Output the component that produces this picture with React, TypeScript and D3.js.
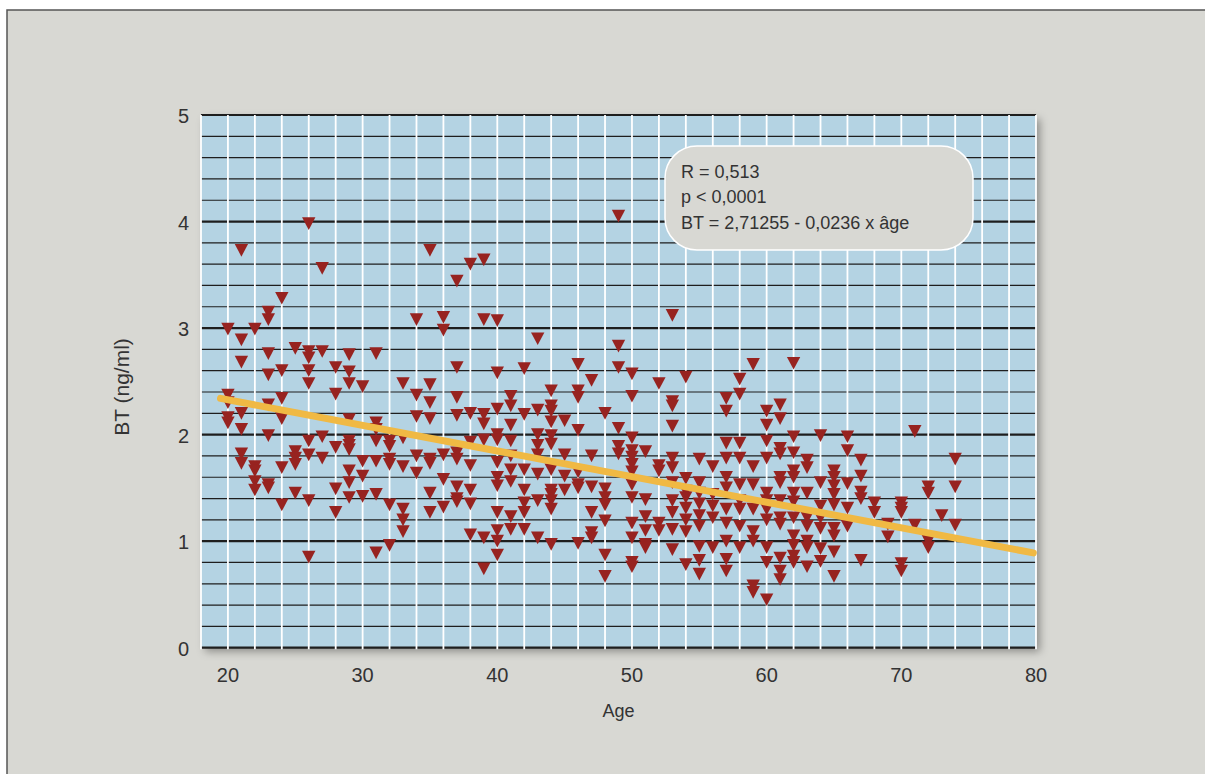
import React from 'react';
import * as d3 from 'd3';

// BT (ng/ml) against age, one list of readings per year of age
const AGE_GROUPS = [
  20, 21, 22, 23, 24, 25, 26, 27, 28, 29,
  30, 31, 32, 33, 34, 35, 36, 37, 38, 39,
  40, 41, 42, 43, 44, 45, 46, 47, 48, 49,
  50, 51, 52, 53, 54, 55, 56, 57, 58, 59,
  60, 61, 62, 63, 64, 65, 66, 67, 68, 69,
  70, 71, 72, 73, 74,
];

const BT_GROUPS = [
  [2.99, 2.37, 2.3, 2.16, 2.11],
  [3.73, 2.89, 2.68, 2.2, 2.05, 1.82, 1.73],
  [2.99, 1.7, 1.66, 1.56, 1.48],
  [3.15, 3.08, 2.76, 2.56, 2.28, 1.99, 1.53, 1.5],
  [3.28, 2.6, 2.34, 2.15, 1.69, 1.34],
  [2.81, 1.84, 1.78, 1.72, 1.45],
  [3.98, 2.78, 2.72, 2.6, 2.48, 1.94, 1.81, 1.38, 0.85],
  [3.56, 2.78, 1.98, 1.78],
  [2.63, 2.38, 1.88, 1.49, 1.27],
  [2.75, 2.59, 2.48, 2.14, 1.94, 1.9, 1.86, 1.66, 1.55, 1.41],
  [2.45, 1.75, 1.61, 1.42],
  [2.76, 2.11, 2.05, 1.94, 1.75, 1.44, 0.89],
  [1.94, 1.89, 1.77, 1.72, 1.34, 0.96],
  [2.48, 1.97, 1.7, 1.3, 1.2, 1.09],
  [3.08, 2.37, 2.17, 1.8, 1.64],
  [3.73, 2.47, 2.3, 2.15, 1.77, 1.73, 1.45, 1.27],
  [3.1, 2.98, 1.81, 1.58, 1.32],
  [3.44, 2.63, 2.35, 2.18, 1.83, 1.77, 1.51, 1.4, 1.37],
  [3.6, 2.2, 1.93, 1.71, 1.48, 1.35, 1.06],
  [3.64, 3.08, 2.19, 2.1, 1.95, 1.03, 0.74],
  [3.07, 2.58, 2.24, 2.0, 1.95, 1.74, 1.6, 1.52, 1.27, 1.1, 1.0, 0.87],
  [2.36, 2.27, 2.09, 1.94, 1.8, 1.67, 1.56, 1.23, 1.11],
  [2.62, 2.19, 1.67, 1.48, 1.36, 1.27, 1.11],
  [2.9, 2.23, 2.0, 1.9, 1.81, 1.63, 1.38, 1.03],
  [2.41, 2.27, 2.22, 2.12, 1.99, 1.91, 1.67, 1.48, 1.44, 1.38, 1.3, 0.97],
  [2.13, 1.81, 1.61, 1.48],
  [2.66, 2.41, 2.35, 2.04, 1.65, 1.53, 1.5, 0.98],
  [2.51, 1.8, 1.51, 1.27, 1.08, 1.03],
  [2.2, 1.49, 1.41, 1.34, 1.19, 0.87, 0.67],
  [4.05, 2.83, 2.63, 2.06, 1.89, 1.82],
  [2.57, 2.36, 1.97, 1.85, 1.79, 1.72, 1.65, 1.53, 1.41, 1.17, 1.03, 0.8, 0.76],
  [1.84, 1.39, 1.23, 1.1, 0.97, 0.94],
  [2.48, 1.71, 1.66, 1.17, 1.1],
  [3.12, 2.31, 2.27, 2.08, 1.78, 1.69, 1.55, 1.38, 1.27, 1.11, 0.92],
  [2.54, 1.59, 1.47, 1.41, 1.31, 1.2, 1.09, 0.78],
  [1.77, 1.55, 1.45, 1.35, 1.24, 1.14, 0.95, 0.82, 0.69],
  [1.7, 1.44, 1.33, 1.22, 0.94],
  [2.34, 2.22, 1.92, 1.78, 1.6, 1.5, 1.3, 1.17, 1.0, 0.83, 0.72],
  [2.52, 2.38, 1.92, 1.78, 1.53, 1.38, 1.3, 1.14, 0.94],
  [2.66, 1.7, 1.53, 1.3, 1.09, 1.0, 0.58, 0.52],
  [2.22, 2.09, 1.94, 1.78, 1.45, 1.38, 1.3, 1.2, 0.94, 0.8, 0.45],
  [2.28, 2.15, 1.87, 1.82, 1.6, 1.55, 1.38, 1.22, 1.16, 0.84, 0.72, 0.64],
  [2.67, 1.98, 1.83, 1.66, 1.6, 1.45, 1.37, 1.22, 1.05, 0.96, 0.86, 0.8],
  [1.76, 1.69, 1.45, 1.22, 1.14, 1.0, 0.94, 0.76],
  [1.99, 1.55, 1.33, 1.22, 1.12, 0.93, 0.81],
  [1.66, 1.6, 1.52, 1.44, 1.34, 1.12, 1.05, 0.9, 0.67],
  [1.98, 1.85, 1.54, 1.31, 1.14],
  [1.76, 1.61, 1.46, 1.4, 0.82],
  [1.36, 1.27],
  [1.16, 1.04],
  [1.36, 1.31, 1.27, 0.79, 0.72],
  [2.03, 1.15],
  [1.51, 1.45, 1.0, 0.94],
  [1.24],
  [1.77, 1.51, 1.15],
];

// fitted line as drawn (ends)
const FIT_AGE = [19.45, 79.8];
const FIT_BT = [2.34, 0.89];

const X_TICKS = [20, 30, 40, 50, 60, 70, 80];
const Y_TICKS = [0, 1, 2, 3, 4, 5];
const STATS_LINES = ['R = 0,513', 'p < 0,0001', 'BT = 2,71255 - 0,0236 x âge'];

const W = 1205;
const H = 774;
const FONT = "'Liberation Sans', Arial, sans-serif";
const TEXT = '#333333';

// inverted triangle, centred on its bounding box
const downTriangle = {
  draw(ctx: any, size: number) {
    const w = Math.sqrt(size) * 0.52;
    const h = w * 0.95;
    ctx.moveTo(-w, -h);
    ctx.lineTo(w, -h);
    ctx.lineTo(0, h);
    ctx.closePath();
  },
};

export default function App() {
  const x = d3.scaleLinear().domain([18, 80]).range([201, 1036]);
  const y = d3.scaleLinear().domain([0, 5]).range([647.7, 115]);

  const points = AGE_GROUPS.flatMap((age, i) => BT_GROUPS[i].map((bt) => ({ age, bt })));
  const marker = d3.symbol().type(downTriangle as any).size(165)();

  const hLines = d3.range(0, 26).map((i) => i / 5);
  const vLines = d3.range(18, 81, 2);

  const fit = d3
    .line<number>()
    .x((_, i) => x(FIT_AGE[i]))
    .y((d) => y(d));

  const left = x(18);
  const right = x(80);
  const top = y(5);
  const bottom = y(0);

  return (
    <svg
      width={W}
      height={H}
      viewBox={`0 0 ${W} ${H}`}
      style={{ position: 'absolute', left: 0, top: 0 }}
    >
      <defs>
        <filter id="plotShadow" x="-5%" y="-5%" width="115%" height="115%">
          <feDropShadow dx="4" dy="4" stdDeviation="4" floodColor="#000" floodOpacity="0.35" />
        </filter>
      </defs>
      <rect width={W} height={H} fill="#ffffff" />
      <rect x={7} y={10} width={W + 20} height={H + 20} fill="#d8d8d3" stroke="#555" strokeWidth={1.5} />

      {/* plot area */}
      <rect x={left} y={top} width={right - left} height={bottom - top} fill="#b4d3e3" filter="url(#plotShadow)" />
      {hLines.map((v) => (
        <line
          key={`h${v}`}
          x1={left}
          x2={right}
          y1={y(v)}
          y2={y(v)}
          stroke="#1e1e1e"
          strokeWidth={Math.abs(v - Math.round(v)) < 1e-6 ? 2.2 : 1.2}
        />
      ))}
      {vLines.map((a) => (
        <line key={`v${a}`} x1={x(a)} x2={x(a)} y1={top} y2={bottom + 1.5} stroke="#ffffff" strokeWidth={1.8} />
      ))}

      {/* readings */}
      <g fill="#972320">
        {points.map((p, i) => (
          <path key={i} d={marker ?? ''} transform={`translate(${x(p.age)},${y(p.bt)})`} />
        ))}
      </g>

      {/* regression line */}
      <path d={fit(FIT_BT) ?? ''} fill="none" stroke="#f0b944" strokeWidth={7} strokeLinecap="round" />

      {/* stats box */}
      <rect x={665} y={146} width={308} height={104} rx={32} ry={32} fill="#d8d8d3" stroke="#ffffff" strokeWidth={1.5} />
      {STATS_LINES.map((s, i) => (
        <text key={s} x={681} y={177.5 + i * 25.8} fontFamily={FONT} fontSize={18} fill={TEXT}>
          {s}
        </text>
      ))}

      {/* axes */}
      {Y_TICKS.map((v) => (
        <text key={`yt${v}`} x={189} y={y(v) + 8} textAnchor="end" fontFamily={FONT} fontSize={20} fill={TEXT}>
          {v}
        </text>
      ))}
      {X_TICKS.map((v) => (
        <text key={`xt${v}`} x={x(v)} y={682} textAnchor="middle" fontFamily={FONT} fontSize={20} fill={TEXT}>
          {v}
        </text>
      ))}
      <text x={(left + right) / 2} y={717} textAnchor="middle" fontFamily={FONT} fontSize={18} fill={TEXT}>
        Age
      </text>
      <text
        transform={`translate(129,387) rotate(-90)`}
        textAnchor="middle"
        fontFamily={FONT}
        fontSize={21}
        fill={TEXT}
      >
        BT (ng/ml)
      </text>
    </svg>
  );
}
